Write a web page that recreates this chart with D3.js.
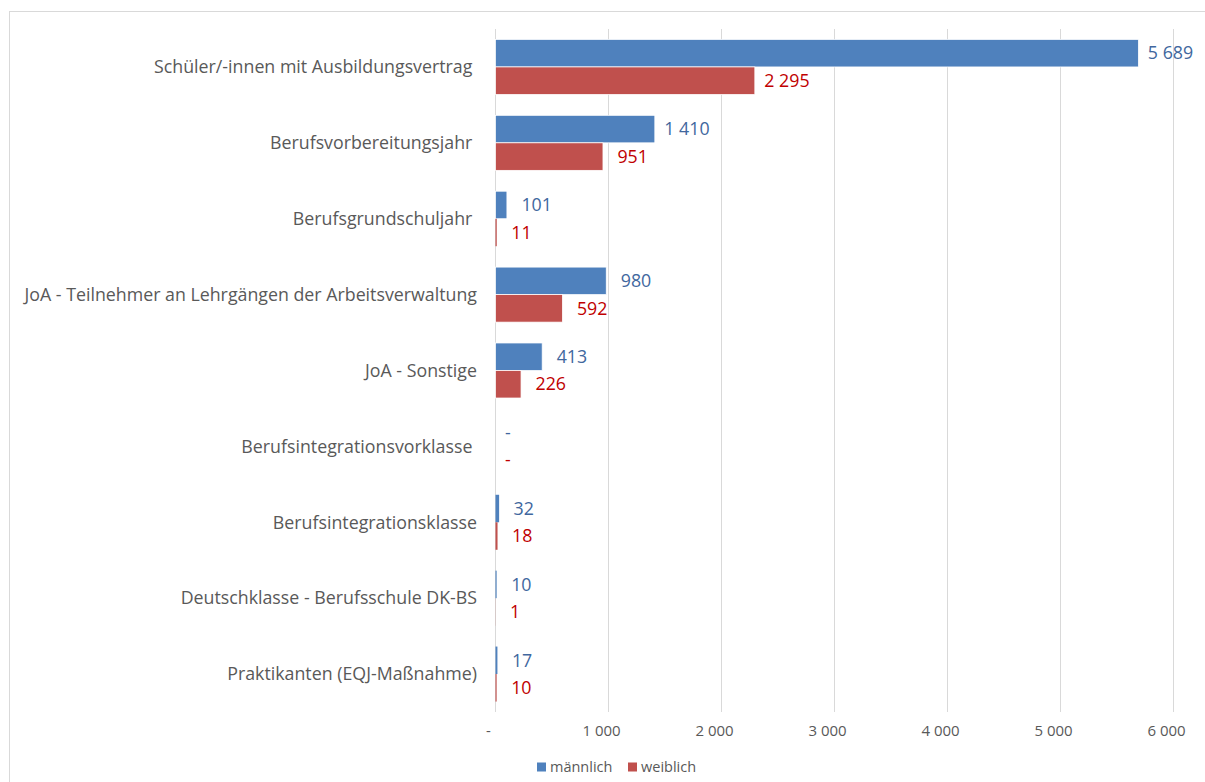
<!DOCTYPE html>
<html>
<head>
<meta charset="utf-8">
<script src="https://cdn.jsdelivr.net/npm/d3@7"></script>
<style>
  html, body { margin: 0; padding: 0; background: #fff; }
  svg { display: block; font-family: "Open Sans", "Noto Sans", sans-serif; }
  .cat { white-space: pre; }
</style>
</head>
<body>
<svg id="chart" width="1205" height="782"></svg>
<script>
// Categories (top to bottom); some labels carry a trailing space as in the source table
const categories = [
  "Schüler/-innen mit Ausbildungsvertrag ",
  "Berufsvorbereitungsjahr ",
  "Berufsgrundschuljahr ",
  "JoA - Teilnehmer an Lehrgängen der Arbeitsverwaltung",
  "JoA - Sonstige",
  "Berufsintegrationsvorklasse ",
  "Berufsintegrationsklasse",
  "Deutschklasse - Berufsschule DK-BS",
  "Praktikanten (EQJ-Maßnahme)"
];
const seriesNames = ["männlich", "weiblich"];
const maleValues   = [5689, 1410, 101, 980, 413, 0, 32, 10, 17];
const femaleValues = [2295,  951,  11, 592, 226, 0, 18,  1, 10];
const xTicks = [0, 1000, 2000, 3000, 4000, 5000, 6000];

const barColors   = ["#4f81bd", "#c0504d"];
const labelColors = ["#41679e", "#c00000"];

const locale = d3.formatLocale({ decimal: ",", thousands: " ", grouping: [3], currency: ["", " €"] });
const fmtInt = locale.format(",d");
const fmt = v => v === 0 ? "-" : fmtInt(v);

const rows = categories.map((c, i) => ({ cat: c, values: [maleValues[i], femaleValues[i]] }));

const svg = d3.select("#chart");
const W = 1205, H = 782;

// outer chart frame
svg.append("rect")
  .attr("x", 9.5).attr("y", 11.5)
  .attr("width", W).attr("height", H)
  .attr("fill", "#fff").attr("stroke", "#d9d9d9").attr("stroke-width", 1);

const plot = { left: 495, right: 1173, top: 29, bottom: 712 };

const x = d3.scaleLinear().domain([0, 6000]).range([plot.left, plot.right]);
const y = d3.scaleBand().domain(categories).range([plot.top, plot.bottom])
  .paddingInner(0.275).paddingOuter(0.1375);
const ySub = d3.scaleBand().domain(seriesNames).range([0, y.bandwidth()]);

// vertical gridlines
svg.append("g").selectAll("line").data(xTicks).join("line")
  .attr("x1", d => Math.round(x(d)) + 0.5).attr("x2", d => Math.round(x(d)) + 0.5)
  .attr("y1", plot.top).attr("y2", plot.bottom)
  .attr("stroke", "#d9d9d9").attr("stroke-width", 1);

// x axis tick labels (number format carries a trailing space, shifting labels left)
const xAxis = d3.axisBottom(x).tickValues(xTicks).tickFormat(fmt).tickSize(0).tickPadding(0);
const gx = svg.append("g").attr("transform", `translate(0,${plot.bottom + 13})`).call(xAxis);
gx.select(".domain").remove();
gx.selectAll("text")
  .attr("dx", -7).attr("dy", "0.71em")
  .attr("fill", "#595959")
  .style("font-size", "15px")
  .style("font-family", "'Open Sans', sans-serif");

// bars
const groups = svg.append("g").selectAll("g").data(rows).join("g")
  .attr("transform", d => `translate(0,${y(d.cat)})`);

groups.selectAll("rect").data(d => d.values.map((v, i) => ({ v, s: seriesNames[i], i }))).join("rect")
  .attr("x", x(0) + 0.5)
  .attr("y", d => ySub(d.s))
  .attr("width", d => Math.max(0, x(d.v) - x(0)))
  .attr("height", ySub.bandwidth())
  .attr("fill", d => barColors[d.i])
  .attr("stroke", d => (x(d.v) - x(0)) > 4 ? "#fff" : "none")
  .attr("stroke-width", 0.75);

// value labels (figure padding for values below a thousand)
groups.selectAll("text").data(d => d.values.map((v, i) => ({ v, s: seriesNames[i], i }))).join("text")
  .attr("x", d => x(d.v) + (d.v >= 1000 || d.v === 0 ? 10 : 15))
  .attr("y", d => ySub(d.s) + ySub.bandwidth() / 2)
  .attr("dy", "0.35em")
  .attr("fill", d => labelColors[d.i])
  .style("font-size", "17.8px")
  .text(d => fmt(d.v));

// category labels
svg.append("g").selectAll("text").data(categories).join("text")
  .attr("class", "cat")
  .attr("x", 477)
  .attr("y", d => y(d) + y.bandwidth() / 2)
  .attr("dy", "0.35em")
  .attr("text-anchor", "end")
  .attr("fill", "#595959")
  .style("font-size", "17.8px")
  .text(d => d);

// legend
const legend = svg.append("g").attr("transform", "translate(537,767)");
const items = legend.selectAll("g").data(seriesNames).join("g")
  .attr("transform", (d, i) => `translate(${i * 91},0)`);
items.append("rect")
  .attr("x", 0).attr("y", -4.5).attr("width", 9).attr("height", 9)
  .attr("fill", (d, i) => barColors[i]);
items.append("text")
  .attr("x", 13).attr("dy", "0.35em")
  .attr("fill", "#595959")
  .style("font-size", "14.5px")
  .text(d => d);
</script>
</body>
</html>
